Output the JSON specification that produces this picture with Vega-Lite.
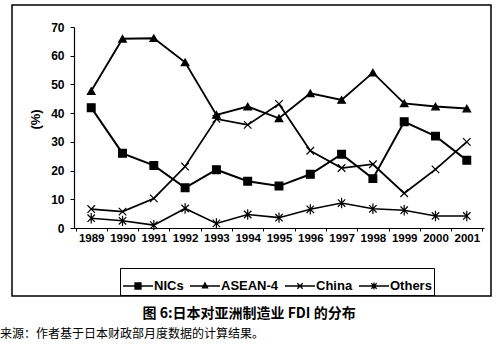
{
  "$schema": "https://vega.github.io/schema/vega-lite/v6.json",
  "width": 479,
  "height": 291,
  "autosize": {"type": "none"},
  "padding": {"left": 12, "top": 5, "right": 9, "bottom": 58},
  "background": "white",
  "config": {
    "view": {"stroke": "black", "strokeWidth": 1.5},
    "font": "Liberation Sans",
    "axis": {
      "domainColor": "black",
      "domainWidth": 1.2,
      "tickColor": "black",
      "tickWidth": 1,
      "labelColor": "black",
      "labelFont": "Liberation Sans",
      "labelFontWeight": "bold",
      "titleColor": "black",
      "grid": false
    }
  },
  "title": {
    "text": "来源：作者基于日本财政部月度数据的计算结果。",
    "orient": "bottom",
    "anchor": "start",
    "frame": "group",
    "dx": -12,
    "offset": 9,
    "font": "Noto Sans CJK SC",
    "fontSize": 12,
    "fontWeight": "normal",
    "color": "black"
  },
  "data": {
    "values": [
      {"year": "1989", "series": "NICs", "value": 41.9},
      {"year": "1990", "series": "NICs", "value": 26.0},
      {"year": "1991", "series": "NICs", "value": 21.8},
      {"year": "1992", "series": "NICs", "value": 14.0},
      {"year": "1993", "series": "NICs", "value": 20.3},
      {"year": "1994", "series": "NICs", "value": 16.3},
      {"year": "1995", "series": "NICs", "value": 14.6},
      {"year": "1996", "series": "NICs", "value": 18.7},
      {"year": "1997", "series": "NICs", "value": 25.7},
      {"year": "1998", "series": "NICs", "value": 17.2},
      {"year": "1999", "series": "NICs", "value": 37.0},
      {"year": "2000", "series": "NICs", "value": 32.0},
      {"year": "2001", "series": "NICs", "value": 23.6},
      {"year": "1989", "series": "ASEAN-4", "value": 47.7},
      {"year": "1990", "series": "ASEAN-4", "value": 65.9},
      {"year": "1991", "series": "ASEAN-4", "value": 66.1},
      {"year": "1992", "series": "ASEAN-4", "value": 57.7},
      {"year": "1993", "series": "ASEAN-4", "value": 39.4},
      {"year": "1994", "series": "ASEAN-4", "value": 42.3},
      {"year": "1995", "series": "ASEAN-4", "value": 38.2},
      {"year": "1996", "series": "ASEAN-4", "value": 46.9},
      {"year": "1997", "series": "ASEAN-4", "value": 44.6},
      {"year": "1998", "series": "ASEAN-4", "value": 54.1},
      {"year": "1999", "series": "ASEAN-4", "value": 43.4},
      {"year": "2000", "series": "ASEAN-4", "value": 42.3},
      {"year": "2001", "series": "ASEAN-4", "value": 41.6},
      {"year": "1989", "series": "China", "value": 6.6},
      {"year": "1990", "series": "China", "value": 5.7},
      {"year": "1991", "series": "China", "value": 10.3},
      {"year": "1992", "series": "China", "value": 21.4},
      {"year": "1993", "series": "China", "value": 38.0},
      {"year": "1994", "series": "China", "value": 35.9},
      {"year": "1995", "series": "China", "value": 43.2},
      {"year": "1996", "series": "China", "value": 26.9},
      {"year": "1997", "series": "China", "value": 20.9},
      {"year": "1998", "series": "China", "value": 22.2},
      {"year": "1999", "series": "China", "value": 12.1},
      {"year": "2000", "series": "China", "value": 20.4},
      {"year": "2001", "series": "China", "value": 30.0},
      {"year": "1989", "series": "Others", "value": 3.4},
      {"year": "1990", "series": "Others", "value": 2.5},
      {"year": "1991", "series": "Others", "value": 1.0},
      {"year": "1992", "series": "Others", "value": 6.8},
      {"year": "1993", "series": "Others", "value": 1.6},
      {"year": "1994", "series": "Others", "value": 4.7},
      {"year": "1995", "series": "Others", "value": 3.6},
      {"year": "1996", "series": "Others", "value": 6.5},
      {"year": "1997", "series": "Others", "value": 8.7},
      {"year": "1998", "series": "Others", "value": 6.7},
      {"year": "1999", "series": "Others", "value": 6.2},
      {"year": "2000", "series": "Others", "value": 4.2},
      {"year": "2001", "series": "Others", "value": 4.2}
    ]
  },
  "encoding": {
    "x": {
      "field": "year",
      "type": "ordinal",
      "scale": {"type": "band", "range": [62, 472], "paddingInner": 0, "paddingOuter": 0.05},
      "axis": {
        "offset": -68,
        "tickBand": "extent",
        "tickSize": 3,
        "labelAngle": 0,
        "labelFontSize": 11.5,
        "labelPadding": 1,
        "title": "图 6:日本对亚洲制造业 FDI 的分布",
        "titleFont": "Noto Sans CJK SC",
        "titleFontSize": 14,
        "titleFontWeight": "bold",
        "titleAlign": "left",
        "titleX": 130,
        "titleY": 85,
        "titleBaseline": "middle"
      }
    },
    "y": {
      "field": "value",
      "type": "quantitative",
      "scale": {"domain": [0, 70], "range": [223, 22], "nice": false},
      "axis": {
        "offset": -62,
        "values": [0, 10, 20, 30, 40, 50, 60, 70],
        "tickSize": 4,
        "labelPadding": 6,
        "labelFontSize": 12,
        "title": "(%)",
        "titleFontSize": 13,
        "titleFontWeight": "bold",
        "titleX": -39,
        "titleY": 114,
        "titleBaseline": "middle"
      }
    }
  },
  "layer": [
    {
      "mark": {"type": "line", "color": "black"},
      "encoding": {
        "detail": {"field": "series", "type": "nominal"},
        "strokeWidth": {
          "field": "series",
          "type": "nominal",
          "scale": {"domain": ["NICs", "ASEAN-4", "China", "Others"], "range": [2, 1.6, 1, 1.5]},
          "legend": null
        }
      }
    },
    {
      "mark": {"type": "point", "fill": "black", "stroke": "black", "strokeWidth": 1.2, "opacity": 1},
      "encoding": {
        "shape": {
          "field": "series",
          "type": "nominal",
          "scale": {
            "domain": ["NICs", "ASEAN-4", "China", "Others"],
            "range": ["square", "triangle-up", "M-1,-1L1,1M-1,1L1,-1", "M-1,-1L1,1M-1,1L1,-1M0,-1.4L0,1.4"]
          },
          "legend": null
        },
        "size": {
          "field": "series",
          "type": "nominal",
          "scale": {"domain": ["NICs", "ASEAN-4", "China", "Others"], "range": [60, 55, 70, 60]},
          "legend": null
        }
      }
    },
    {
      "transform": [{"filter": "false"}],
      "mark": {"type": "point", "fill": "black", "stroke": "black", "strokeWidth": 1.2, "opacity": 1},
      "encoding": {
        "color": {
          "field": "series",
          "type": "nominal",
          "scale": {"domain": ["NICs", "ASEAN-4", "China", "Others"], "range": ["black", "black", "black", "black"]},
          "legend": {
            "orient": "none",
            "legendX": 108,
            "legendY": 263,
            "direction": "horizontal",
            "columns": 4,
            "title": null,
            "strokeColor": "black",
            "padding": 2,
            "symbolSize": 900,
            "symbolStrokeWidth": 1.3,
            "labelFontSize": 13,
            "labelFontWeight": "bold",
            "labelColor": "black",
            "columnPadding": 3,
            "labelOffset": 0
          }
        },
        "shape": {
          "field": "series",
          "type": "nominal",
          "scale": {
            "domain": ["NICs", "ASEAN-4", "China", "Others"],
            "range": [
              "M-1,0H1M-0.2,-0.2H0.2V0.2H-0.2Z",
              "M-1,0H1M0,-0.2L0.17,0.12H-0.17Z",
              "M-1,0H1M-0.18,-0.18L0.18,0.18M-0.18,0.18L0.18,-0.18",
              "M-1,0H1M-0.18,-0.18L0.18,0.18M-0.18,0.18L0.18,-0.18M0,-0.24V0.24"
            ]
          },
          "legend": {
            "orient": "none",
            "legendX": 108,
            "legendY": 263,
            "direction": "horizontal",
            "columns": 4,
            "title": null,
            "strokeColor": "black",
            "padding": 2,
            "symbolSize": 900,
            "symbolStrokeWidth": 1.3,
            "labelFontSize": 13,
            "labelFontWeight": "bold",
            "labelColor": "black",
            "columnPadding": 3,
            "labelOffset": 0
          }
        }
      }
    }
  ],
  "resolve": {"scale": {"shape": "independent", "size": "independent"}}
}
